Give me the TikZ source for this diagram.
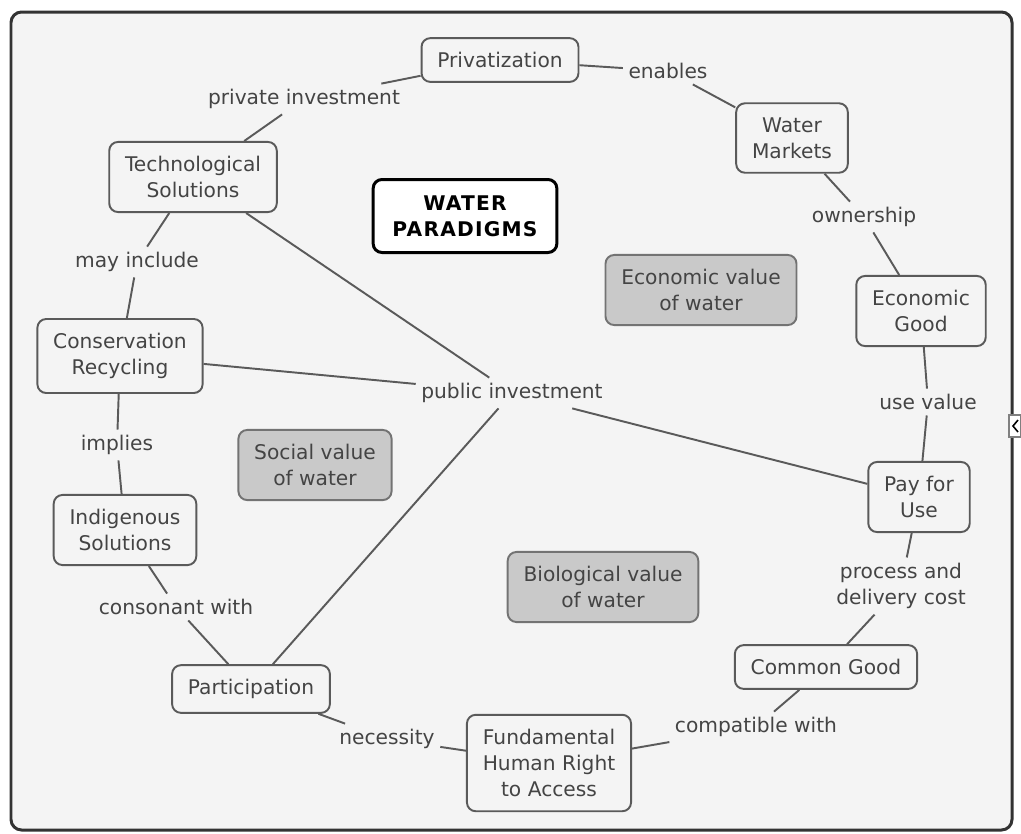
\documentclass[tikz,border=0pt]{standalone}
\usepackage{fontspec}
\setmainfont{DejaVu Sans}
\usepackage{tikz}
\usetikzlibrary{positioning}
\definecolor{txtgray}{HTML}{444444}
\definecolor{linegray}{HTML}{5A5A5A}
\definecolor{boxgray}{HTML}{C9C9C9}
\definecolor{bggray}{HTML}{F4F4F4}
\tikzset{
    concept/.style={shape=rectangle,rounded corners=5pt,draw=linegray,line width=1.1pt,
        fill=bggray,text=txtgray,align=center,inner xsep=9pt,inner ysep=8pt,
        font=\fontsize{11.5}{15}\selectfont},
    valuebox/.style={concept,fill=boxgray,draw=gray!90!black},
    titlebox/.style={concept,draw=black,line width=1.7pt,fill=white,text=black,
        font=\fontsize{11.5}{15}\selectfont\bfseries\addfontfeature{LetterSpace=6},
        inner xsep=11pt,inner ysep=9pt},
    linkword/.style={text=txtgray,align=center,inner sep=3pt,
        font=\fontsize{11.5}{15}\selectfont},
    link/.style={draw=linegray,line width=1.1pt}
}

\begin{document}
\begin{tikzpicture}[x=0.02cm,y=-0.02cm]
    \useasboundingbox (0,0) rectangle (1021,833);
    \draw[draw=black!80,line width=1.7pt,fill=bggray,rounded corners=6pt] (11,12) rectangle (1012,830);
    \draw[draw=gray,fill=white,line width=0.8pt] (1009,415) rectangle (1021,437);
    \draw[black,line width=0.9pt] (1018,420) -- (1013,426) -- (1018,432);

    % concepts
    \node[concept] (Priv) at (500,60) {Privatization};
    \node[concept] (WM) at (792,138) {Water\\Markets};
    \node[concept] (Tech) at (193,177) {Technological\\Solutions};
    \node[titlebox] (Title) at (465,216) {WATER\\PARADIGMS};
    \node[valuebox] (EcoVal) at (701,290) {Economic value\\of water};
    \node[concept] (EG) at (921,311) {Economic\\Good};
    \node[concept] (Cons) at (120,356) {Conservation\\Recycling};
    \node[valuebox] (SocVal) at (315,465) {Social value\\of water};
    \node[concept] (Pay) at (919,497) {Pay for\\Use};
    \node[concept] (Indig) at (125,530) {Indigenous\\Solutions};
    \node[valuebox] (BioVal) at (603,587) {Biological value\\of water};
    \node[concept] (CG) at (826,667) {Common Good};
    \node[concept] (Part) at (251,689) {Participation};
    \node[concept] (Fund) at (549,763) {Fundamental\\Human Right\\to Access};

    % linking words
    \node[linkword] (PrivInv) at (304,99) {private investment};
    \node[linkword] (Enables) at (668,71) {enables};
    \node[linkword] (Own) at (864,217) {ownership};
    \node[linkword] (MayInc) at (137,262) {may include};
    \node[linkword] (UseVal) at (928,402) {use value};
    \node[linkword] (Implies) at (117,445) {implies};
    \node[linkword] (PubInv) at (512,393) {public investment};
    \node[linkword] (Cost) at (901,586) {process and\\delivery cost};
    \node[linkword] (Consonant) at (176,607) {consonant with};
    \node[linkword] (Compat) at (756,727) {compatible with};
    \node[linkword] (Need) at (387,739) {necessity};

    \path [link] (Tech) edge (PrivInv);
    \path [link] (PrivInv) edge (Priv);
    \path [link] (Priv) edge (Enables);
    \path [link] (Enables) edge (WM);
    \path [link] (WM) edge (Own);
    \path [link] (Own) edge (EG);
    \path [link] (EG) edge (UseVal);
    \path [link] (UseVal) edge (Pay);
    \path [link] (Pay) edge (Cost);
    \path [link] (Cost) edge (CG);
    \path [link] (CG) edge (Compat);
    \path [link] (Compat) edge (Fund);
    \path [link] (Fund) edge (Need);
    \path [link] (Need) edge (Part);
    \path [link] (Part) edge (Consonant);
    \path [link] (Consonant) edge (Indig);
    \path [link] (Indig) edge (Implies);
    \path [link] (Implies) edge (Cons);
    \path [link] (Cons) edge (MayInc);
    \path [link] (MayInc) edge (Tech);

    \path [link] (Tech) edge (PubInv);
    \path [link] (Cons) edge (PubInv);
    \path [link] (Part) edge (PubInv);
    \path [link] (PubInv) edge (Pay);
\end{tikzpicture}
\end{document}
